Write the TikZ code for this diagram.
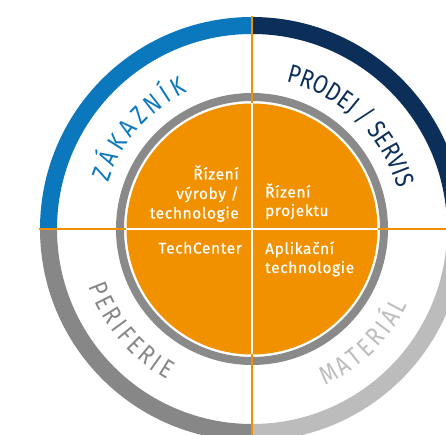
\documentclass[tikz,border=0pt]{standalone}
\usepackage{fontspec}
\setmainfont{Fira Sans}
\newfontfamily\ringfont[FakeStretch=0.82]{Fira Sans}
\newfontfamily\cellfont[LetterSpace=4,FakeBold=0.6]{Fira Sans}
\usetikzlibrary{decorations.text}
\definecolor{zblue}{HTML}{0B78BE}
\definecolor{znavy}{HTML}{0B2F58}
\definecolor{zgray}{HTML}{878787}
\definecolor{zlgray}{HTML}{BCBCBC}
\definecolor{zring}{HTML}{8A8A8A}
\definecolor{zorange}{HTML}{F29100}
\tikzset{
  orangeline/.style={draw=zorange, line width=2.5pt},
  whiteline/.style={draw=white, line width=2.2pt},
  celltext/.style={text=white, font=\cellfont\fontsize{15.5}{19.5}\selectfont, inner sep=0pt},
}
\begin{document}
\begin{tikzpicture}[x=1pt,y=1pt]
\useasboundingbox (-252,-206) rectangle (194,229);
\clip (-252,-206) rectangle (194,229);
% outer ring quadrants
\fill[znavy] (0:212pt) arc[start angle=0,end angle=90,radius=212pt] -- (90:195pt) arc[start angle=90,end angle=0,radius=195pt] -- cycle;
\fill[zblue] (90:212pt) arc[start angle=90,end angle=180,radius=212pt] -- (180:195pt) arc[start angle=180,end angle=90,radius=195pt] -- cycle;
\fill[zgray] (180:212pt) arc[start angle=180,end angle=270,radius=212pt] -- (270:195pt) arc[start angle=270,end angle=180,radius=195pt] -- cycle;
\fill[zlgray] (270:212pt) arc[start angle=270,end angle=360,radius=212pt] -- (0:195pt) arc[start angle=360,end angle=270,radius=195pt] -- cycle;
% inner grey ring and orange disc
\fill[zring, even odd rule] (0,0) circle[radius=136pt] (0,0) circle[radius=128pt];
\fill[zorange] (0,0) circle[radius=125.5pt];
% dividing lines
\draw[orangeline] (90:213pt) -- (90:125.5pt);
\draw[orangeline] (180:213pt) -- (180:125.5pt);
\draw[orangeline] (0:125.5pt) -- (0:230pt);
\draw[orangeline] (270:125.5pt) -- (270:230pt);
\draw[whiteline] (180:125.5pt) -- (0:125.5pt);
\draw[whiteline] (270:125.5pt) -- (90:125.5pt);
% ring labels
\path[decorate, decoration={text along path, text align={fit to path},
  text={|\ringfont\fontsize{26}{26}\selectfont\color{zblue}|ZÁKAZNÍK}}]
  (162:151pt) arc[start angle=162, end angle=115, radius=151pt];
\path[decorate, decoration={text along path, text align={fit to path},
  text={|\ringfont\fontsize{26}{26}\selectfont\color{znavy}|PRODEJ / SERVIS}}]
  (77:151pt) arc[start angle=77, end angle=15.5, radius=151pt];
\path[decorate, decoration={text along path, text align={fit to path},
  text={|\ringfont\fontsize{26}{26}\selectfont\color{zgray}|PERIFERIE}}]
  (199.5:173pt) arc[start angle=199.5, end angle=240.5, radius=173pt];
\path[decorate, decoration={text along path, text align={fit to path},
  text={|\ringfont\fontsize{26}{26}\selectfont\color{zlgray}|MATERIÁL}}]
  (295:173pt) arc[start angle=295, end angle=334, radius=173pt];
% cell texts
\node[celltext, anchor=base east] (tl1) at (-13,49.5) {Řízení};
\node[celltext, anchor=base east] (tl2) at (-13,30) {výroby /};
\node[celltext, anchor=base east] (tl3) at (-13,10.5) {technologie};
\node[celltext, anchor=base west] (tr1) at (13,31.5) {Řízení};
\node[celltext, anchor=base west] (tr2) at (13,13) {projektu};
\node[celltext, anchor=base east] (bl1) at (-10,-24.5) {TechCenter};
\node[celltext, anchor=base west] (br1) at (13,-25) {Aplikační};
\node[celltext, anchor=base west] (br2) at (13,-44) {technologie};
\end{tikzpicture}
\end{document}
